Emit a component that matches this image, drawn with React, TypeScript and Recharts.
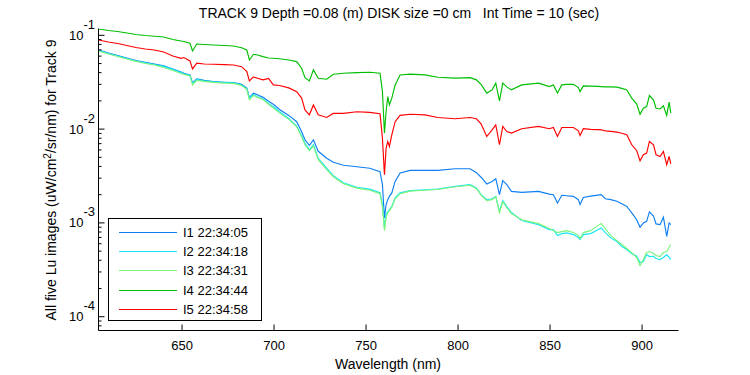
import { LineChart, Line, XAxis, YAxis, Legend } from "recharts";

const FONT = '"Liberation Sans", Arial, Helvetica, sans-serif';

const WAVELENGTH = [
  604.6, 610, 615, 620, 625, 630, 635, 640, 645, 649.5,
  651, 654.3, 655.7, 658, 662, 667, 673, 678, 682.4, 685.2,
  686.6, 688.8, 691, 694, 697, 699.6, 703, 708, 712.3, 715,
  716.8, 719.2, 721.4, 724, 728.6, 732.2, 737.7, 745, 752, 757.6,
  758.9, 760, 760.9, 761.8, 762.7, 764, 765.8, 768.5, 774, 782,
  789, 798.4, 806.5, 810, 812.5, 815.6, 818.5, 820.5, 822.5, 824.3,
  826.5, 829, 834.6, 843.7, 849.6, 851.8, 854, 856.4, 859, 862.7,
  865.4, 866.3, 868.1, 872, 876, 877.8, 880, 883, 886.3, 889,
  891.7, 894.4, 897.1, 898.9, 900.7, 902.5, 904, 906.2, 907.6, 909.8,
  911.6, 913.4, 914.7, 915.6,
];

const I1 = [
  0.0698, 0.0648, 0.061, 0.0573, 0.0539, 0.0516, 0.0495, 0.0472, 0.0438, 0.0407,
  0.0394, 0.0378, 0.0311, 0.0343, 0.0331, 0.0321, 0.0316, 0.0313, 0.03, 0.0273,
  0.0217, 0.0242, 0.0232, 0.0218, 0.0198, 0.0184, 0.0162, 0.014, 0.012, 0.00936,
  0.00769, 0.00673, 0.00769, 0.0058, 0.00489, 0.00444, 0.00412, 0.00397, 0.00383, 0.00351,
  0.00256, 0.00113, 0.00157, 0.00177, 0.00192, 0.00209, 0.00277, 0.0034, 0.00363, 0.00363,
  0.00363, 0.00378, 0.00378, 0.00343, 0.00307, 0.0026, 0.00277, 0.00296, 0.002, 0.00282,
  0.00256, 0.00217, 0.00212, 0.00217, 0.00203, 0.002, 0.00163, 0.00197, 0.00195, 0.00192,
  0.00177, 0.00157, 0.00187, 0.00193, 0.00198, 0.002, 0.00181, 0.00177, 0.0017, 0.0016,
  0.0015, 0.00128, 0.00108, 0.000898, 0.001, 0.00104, 0.00131, 0.00118, 0.000976, 0.000959,
  0.00115, 0.00072, 0.001, 0.000959,
];

const I2 = [
  0.0689, 0.064, 0.0602, 0.0566, 0.0533, 0.051, 0.0489, 0.0466, 0.0433, 0.0402,
  0.0389, 0.0374, 0.0307, 0.0339, 0.0327, 0.0319, 0.0314, 0.0311, 0.0296, 0.0268,
  0.0214, 0.0234, 0.0221, 0.021, 0.0188, 0.0173, 0.0153, 0.013, 0.0108, 0.00848,
  0.0071, 0.00602, 0.00681, 0.00489, 0.00383, 0.00319, 0.00268, 0.0024, 0.00229, 0.0021,
  0.00157, 0.000885, 0.00123, 0.00132, 0.00139, 0.0015, 0.00185, 0.00209, 0.00221, 0.00226,
  0.0023, 0.00245, 0.00256, 0.00236, 0.002, 0.00177, 0.00181, 0.00192, 0.00133, 0.00173,
  0.00149, 0.00129, 0.00106, 0.000959, 0.000848, 0.000848, 0.000733, 0.000769, 0.000783, 0.000751,
  0.000698, 0.000664, 0.000751, 0.000769, 0.000848, 0.000885, 0.000789, 0.000692, 0.000633, 0.00056,
  0.00052, 0.000472, 0.000441, 0.000378, 0.000388, 0.00046, 0.000438, 0.000441, 0.000417, 0.000407,
  0.000428, 0.00046, 0.000428, 0.000407,
];

const I3 = [
  0.0681, 0.0633, 0.0595, 0.056, 0.0527, 0.0501, 0.0483, 0.0454, 0.0422, 0.0392,
  0.0383, 0.0369, 0.0296, 0.0331, 0.0323, 0.0315, 0.0309, 0.0307, 0.0292, 0.0265,
  0.0205, 0.0229, 0.0218, 0.0207, 0.0184, 0.0168, 0.0149, 0.0127, 0.0106, 0.00828,
  0.00681, 0.00588, 0.00664, 0.00472, 0.00369, 0.00311, 0.00262, 0.00235, 0.00223, 0.00205,
  0.00149, 0.000828, 0.00114, 0.00129, 0.00135, 0.00147, 0.00181, 0.00205, 0.00218, 0.00223,
  0.00227, 0.00243, 0.00252, 0.00232, 0.00198, 0.00173, 0.00177, 0.0019, 0.00129, 0.00168,
  0.00145, 0.00126, 0.00108, 0.000983, 0.00087, 0.000828, 0.000789, 0.000808, 0.000828, 0.000789,
  0.000733, 0.000681, 0.000789, 0.000828, 0.000936, 0.000983, 0.00087, 0.000733, 0.000648, 0.000588,
  0.000533, 0.000483, 0.000428, 0.000351, 0.000407, 0.000483, 0.000495, 0.000472, 0.000449, 0.000438,
  0.000483, 0.000495, 0.000546, 0.000588,
];

const I4 = [
  0.1167, 0.1125, 0.1097, 0.1058, 0.102, 0.0995, 0.0976, 0.0959, 0.0902, 0.087,
  0.0859, 0.0822, 0.0681, 0.0808, 0.0798, 0.0789, 0.0779, 0.0769, 0.0738, 0.0698,
  0.0546, 0.0628, 0.0617, 0.0592, 0.0573, 0.0569, 0.0562, 0.0546, 0.0524, 0.0446,
  0.0354, 0.0327, 0.0428, 0.0349, 0.034, 0.0385, 0.0394, 0.04, 0.0404, 0.0394,
  0.0251, 0.00907, 0.0154, 0.0222, 0.0181, 0.0214, 0.0296, 0.0378, 0.0385, 0.0378,
  0.0357, 0.0349, 0.0354, 0.0335, 0.03, 0.0242, 0.0262, 0.0309, 0.02, 0.0309,
  0.0282, 0.0262, 0.0296, 0.0309, 0.0284, 0.0296, 0.0242, 0.0296, 0.03, 0.0301,
  0.0277, 0.0251, 0.0289, 0.0287, 0.0285, 0.0284, 0.0282, 0.0282, 0.028, 0.0272,
  0.0262, 0.0214, 0.0185, 0.0144, 0.0167, 0.0174, 0.0228, 0.0205, 0.0167, 0.0164,
  0.0177, 0.014, 0.0194, 0.0148,
];

const I5 = [
  0.0891, 0.0849, 0.0818, 0.0779, 0.0742, 0.0715, 0.0698, 0.0664, 0.0602, 0.0569,
  0.058, 0.0533, 0.0438, 0.0504, 0.0495, 0.0491, 0.0487, 0.0483, 0.0463, 0.041,
  0.0327, 0.036, 0.0349, 0.0335, 0.0347, 0.0296, 0.0292, 0.0275, 0.0251, 0.0214,
  0.016, 0.0142, 0.0181, 0.0142, 0.0133, 0.0147, 0.0147, 0.0153, 0.0151, 0.0146,
  0.00802, 0.00326, 0.00628, 0.00738, 0.00653, 0.0087, 0.012, 0.014, 0.0144, 0.0142,
  0.0133, 0.0129, 0.0133, 0.0129, 0.0114, 0.00834, 0.00983, 0.0111, 0.00681, 0.0107,
  0.00943, 0.00907, 0.0101, 0.0107, 0.0101, 0.0104, 0.00834, 0.0104, 0.0104, 0.0104,
  0.00959, 0.00855, 0.0101, 0.00995, 0.00988, 0.00983, 0.00959, 0.00947, 0.00929, 0.00902,
  0.0087, 0.00681, 0.00588, 0.0046, 0.00533, 0.00556, 0.00738, 0.00681, 0.00533, 0.00511,
  0.00578, 0.00417, 0.00511, 0.00425,
];

const SERIES = [
  { key: "i1", name: "I1 22:34:05", color: "#0d7ff2", values: I1 },
  { key: "i2", name: "I2 22:34:18", color: "#19e6f5", values: I2 },
  { key: "i3", name: "I3 22:34:31", color: "#7af57a", values: I3 },
  { key: "i4", name: "I4 22:34:44", color: "#00bf00", values: I4 },
  { key: "i5", name: "I5 22:34:58", color: "#ff0000", values: I5 },
];

const X_DOMAIN = [604.6, 919.8];
const X_TICKS = [650, 700, 750, 800, 850, 900];
const Y_DOMAIN = [7.13e-5, 0.1182];
const Y_MAJOR = [1e-4, 1e-3, 1e-2, 1e-1];
const Y_EXP = ["-4", "-3", "-2", "-1"];
const Y_TICKS = [
  8e-5, 9e-5,
  1e-4, 2e-4, 3e-4, 4e-4, 5e-4, 6e-4, 7e-4, 8e-4, 9e-4,
  1e-3, 2e-3, 3e-3, 4e-3, 5e-3, 6e-3, 7e-3, 8e-3, 9e-3,
  1e-2, 2e-2, 3e-2, 4e-2, 5e-2, 6e-2, 7e-2, 8e-2, 9e-2,
  1e-1,
];

const LEGEND_ROWS = [13, 32, 51, 71, 90];

const rows = WAVELENGTH.map((w, i) => {
  const r: any = { w };
  SERIES.forEach(s => { r[s.key] = s.values[i]; });
  return r;
});

// matlab style: ticks point into the box
const leftTick = (p: any) => {
  const idx = Y_MAJOR.indexOf(p.payload.value);
  const major = idx >= 0;
  return (
    <g>
      <line x1={p.x} x2={p.x + (major ? 6 : 3)} y1={p.y} y2={p.y} stroke="#000" />
      {major && (
        <text x={p.x - 3.5} y={p.y + 4.5} textAnchor="end" fontSize={13} fontFamily={FONT} fill="#000">
          <tspan>10</tspan>
          <tspan dy={-11}>{Y_EXP[idx]}</tspan>
        </text>
      )}
    </g>
  );
};

const rightTick = (p: any) => {
  const major = Y_MAJOR.indexOf(p.payload.value) >= 0;
  return <line x1={p.x} x2={p.x - (major ? 6 : 3)} y1={p.y} y2={p.y} stroke="#000" />;
};

const bottomTick = (p: any) => (
  <g>
    <line x1={p.x} x2={p.x} y1={p.y} y2={p.y - 6} stroke="#000" />
    <text x={p.x} y={p.y + 19.5} textAnchor="middle" fontSize={13} fontFamily={FONT} fill="#000">
      {p.payload.value}
    </text>
  </g>
);

const topTick = (p: any) => <line x1={p.x} x2={p.x} y1={p.y} y2={p.y + 6} stroke="#000" />;

const renderLegend = () => (
  <div style={{ position: "relative", width: 154, height: 103, border: "1px solid #000", background: "#fff", boxSizing: "border-box" }}>
    {SERIES.map((s, i) => (
      <div key={s.key}>
        <div style={{ position: "absolute", left: 10, top: LEGEND_ROWS[i], width: 58, height: 1, background: s.color }} />
        <span style={{ position: "absolute", left: 74, top: LEGEND_ROWS[i] - 7.5, fontSize: 13, lineHeight: "16px", fontFamily: FONT, color: "#000", whiteSpace: "nowrap" }}>{s.name}</span>
      </div>
    ))}
  </div>
);

export default function App() {
  return (
    <div style={{ position: "absolute", left: 0, top: 0, width: 750, height: 375, background: "#fff", overflow: "hidden" }}>
      <LineChart width={750} height={375} data={rows} margin={{ top: 28.5, right: 71.5, bottom: 0, left: 0 }}>
        <XAxis
          dataKey="w" type="number" domain={X_DOMAIN} allowDataOverflow ticks={X_TICKS} interval={0}
          height={44.5} tickSize={0} tickMargin={0} tickLine={false} axisLine={{ stroke: "#000" }} tick={bottomTick}
        />
        <XAxis
          xAxisId="top" orientation="top" dataKey="w" type="number" domain={X_DOMAIN} allowDataOverflow ticks={X_TICKS}
          interval={0} height={0} tickSize={0} tickMargin={0} tickLine={false} axisLine={{ stroke: "#000" }} tick={topTick}
        />
        <YAxis
          type="number" scale="log" domain={Y_DOMAIN} allowDataOverflow ticks={Y_TICKS} interval={0}
          width={98.5} tickSize={0} tickMargin={0} tickLine={false} axisLine={{ stroke: "#000" }} tick={leftTick}
        />
        <YAxis
          yAxisId="right" orientation="right" type="number" scale="log" domain={Y_DOMAIN} allowDataOverflow ticks={Y_TICKS}
          interval={0} width={0} tickSize={0} tickMargin={0} tickLine={false} axisLine={{ stroke: "#000" }} tick={rightTick}
        />
        <Legend
          content={renderLegend} layout="horizontal" verticalAlign="middle" align="center"
          wrapperStyle={{ left: 108, top: 218, width: 154, height: 103 }}
        />
        {SERIES.map(s => (
          <Line
            key={s.key} dataKey={s.key} name={s.name} type="linear" stroke={s.color} strokeWidth={1.15}
            dot={false} activeDot={false} isAnimationActive={false}
          />
        ))}
      </LineChart>

      <div style={{ position: "absolute", left: 0, top: 4.7, width: 798, textAlign: "center", fontSize: 14, lineHeight: "16px", fontFamily: FONT, whiteSpace: "pre" }}>
        {"TRACK 9 Depth =0.08 (m) DISK size =0 cm   Int Time = 10 (sec)"}
      </div>
      <div style={{ position: "absolute", left: 0, top: 356.4, width: 776, textAlign: "center", fontSize: 14, lineHeight: "16px", fontFamily: FONT }}>
        Wavelength (nm)
      </div>
      <div style={{ position: "absolute", left: -118.6, top: 171.5, width: 340, height: 16, textAlign: "center", fontSize: 14, lineHeight: "16px", fontFamily: FONT, transform: "rotate(-90deg)", whiteSpace: "nowrap" }}>
        All five Lu images (uW/cm<span style={{ fontSize: 10, position: "relative", top: -5 }}>2</span>/sr/nm) for Track 9
      </div>
    </div>
  );
}
